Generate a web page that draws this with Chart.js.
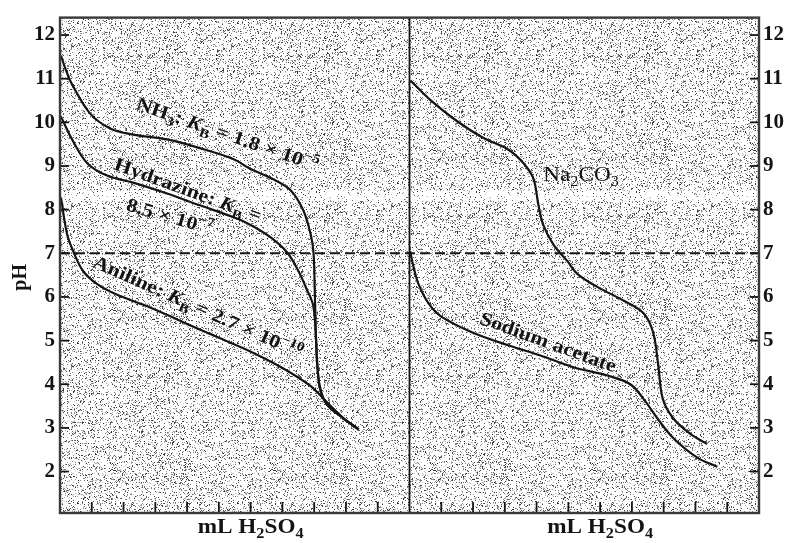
<!DOCTYPE html>
<html lang="en">
<head>
  <meta charset="UTF-8" />
  <title>Titration curves - pH vs mL H2SO4</title>
  <script src="https://cdn.jsdelivr.net/npm/chart.js"></script>
  <style>
    html, body { margin: 0; padding: 0; background: #fff; }
    #wrap { position: relative; width: 786px; height: 543px; }
  </style>
</head>
<body>
  <div id="wrap">
    <canvas id="titration" width="786" height="543"></canvas>
  </div>

  <script>
    // each panel spans 11 mL units on the x axis
    const PANEL_ML = 11;
    const PH_MIN = 1.05;
    const PH_MAX = 12.4;
    const NEUTRAL_PH = 7;
    const yTickValues = [2, 3, 4, 5, 6, 7, 8, 9, 10, 11, 12];
    const xTickValues = [1, 2, 3, 4, 5, 6, 7, 8, 9, 10];

    // left panel, [mL, pH]
    const nh3 = [[0.03, 11.53], [0.16, 11.25], [0.38, 10.87], [0.95, 10.2], [1.58, 9.86], [2.3, 9.72],
      [3.37, 9.61], [4.4, 9.41], [5.45, 9.16], [6.0, 8.93], [6.7, 8.7], [7.25, 8.45], [7.66, 7.98],
      [7.9, 7.4], [7.98, 7.0], [8.02, 6.1], [8.06, 5.0], [8.1, 4.43], [8.19, 3.89], [8.41, 3.53],
      [8.92, 3.22], [9.39, 2.97]];
    const hydrazine = [[0.03, 10.13], [0.38, 9.61], [0.85, 9.07], [1.48, 8.78], [2.3, 8.62], [3.37, 8.37],
      [4.4, 8.1], [5.45, 7.83], [6.0, 7.65], [6.6, 7.38], [7.15, 7.02], [7.5, 6.6], [7.75, 6.2],
      [7.97, 5.8], [8.06, 5.0], [8.1, 4.43], [8.19, 3.89], [8.41, 3.53], [8.92, 3.22], [9.39, 2.97]];
    const aniline = [[0.03, 8.28], [0.22, 7.45], [0.42, 7.04], [0.72, 6.6], [1.16, 6.3], [1.8, 6.05],
      [2.84, 5.76], [3.88, 5.42], [4.95, 5.08], [5.99, 4.75], [7.03, 4.36], [7.88, 3.96], [8.45, 3.55],
      [8.92, 3.22], [9.39, 2.97]];

    // right panel, [mL, pH]
    const sodiumCarbonate = [[0.03, 10.96], [0.66, 10.51], [1.51, 10.02], [2.33, 9.64], [3.08, 9.39],
      [3.58, 9.07], [3.9, 8.71], [4.06, 8.1], [4.21, 7.65], [4.53, 7.2], [4.97, 6.82], [5.28, 6.53],
      [5.91, 6.23], [6.73, 5.92], [7.36, 5.63], [7.67, 5.18], [7.83, 4.43], [7.97, 3.67], [8.3, 3.22],
      [8.84, 2.86], [9.37, 2.63]];
    const sodiumAcetate = [[0.02, 7.05], [0.13, 6.68], [0.28, 6.3], [0.6, 5.85], [1.0, 5.55], [2.0, 5.18],
      [3.08, 4.9], [4.12, 4.66], [5.16, 4.39], [6.23, 4.2], [6.95, 4.0], [7.36, 3.67], [7.8, 3.22],
      [8.3, 2.77], [9.06, 2.32], [9.69, 2.11]];

    const FONT = '"Liberation Serif", "DejaVu Serif", serif';
    const INK = '#141414';
    const STRETCH = 1.16; // scanned text is a bit wide

    // text parts: [text, kind]  kind = sub | sup | it
    const curveLabels = [
      { panel: 0, x: 2.36, y: 10.31, angle: 19, size: 19, bold: true,
        parts: [['NH'], ['3', 'sub'], [': '], ['K', 'it'], ['B', 'sub'], [' = 1.8 × 10'], ['−5', 'sup']] },
      { panel: 0, x: 1.67, y: 8.93, angle: 20, size: 19, bold: true,
        parts: [['Hydrazine: '], ['K', 'it'], ['B', 'sub'], [' =']] },
      { panel: 0, x: 2.05, y: 7.99, angle: 16, size: 19, bold: true,
        parts: [['8.5 × 10'], ['−7', 'sup']] },
      { panel: 0, x: 1.0, y: 6.7, angle: 24, size: 19, bold: true,
        parts: [['Aniline: '], ['K', 'it'], ['B', 'sub'], [' = 2.7 × 10'], ['−10', 'sup']] },
      { panel: 1, x: 4.21, y: 8.66, angle: 0, size: 20, bold: false,
        parts: [['Na'], ['2', 'sub'], ['CO'], ['3', 'sub']] },
      { panel: 1, x: 2.17, y: 5.4, angle: 20, size: 19, bold: true,
        parts: [['Sodium acetate']] }
    ];
    const axisTitleParts = [['mL H'], ['2', 'sub'], ['SO'], ['4', 'sub']];
    const axisTitleCenters = [6, 6]; // mL within each panel

    function drawRich(ctx, parts, size, bold, measureOnly) {
      let x = 0;
      parts.forEach(([t, kind]) => {
        const small = kind === 'sub' || kind === 'sup';
        const fs = small ? size * 0.7 : size;
        ctx.font = `${kind === 'it' ? 'italic ' : ''}${bold ? 'bold ' : ''}${fs}px ${FONT}`;
        const dy = kind === 'sub' ? size * 0.26 : kind === 'sup' ? -size * 0.4 : 0;
        if (!measureOnly) ctx.fillText(t, x, dy);
        x += ctx.measureText(t).width;
      });
      return x;
    }

    // speckled paper texture (fixed seed so it is the same every time)
    function stipple(density, seed) {
      const n = 160;
      const c = document.createElement('canvas');
      c.width = c.height = n;
      const g = c.getContext('2d');
      g.fillStyle = '#fff';
      g.fillRect(0, 0, n, n);
      let s = seed;
      const rnd = () => (s = (s * 16807) % 2147483647) / 2147483647;
      for (let i = 0; i < n * n * density; i++) {
        const v = 40 + Math.floor(rnd() * 170);
        g.fillStyle = `rgb(${v},${v},${v})`;
        g.fillRect(Math.floor(rnd() * n), Math.floor(rnd() * n), 1, 1);
      }
      return c;
    }

    const paperPlugin = {
      id: 'paper',
      beforeDatasetsDraw(chart) {
        const { ctx, chartArea: a, scales: { y } } = chart;
        ctx.save();
        ctx.fillStyle = ctx.createPattern(stipple(0.24, 12345), 'repeat');
        ctx.fillRect(a.left, a.top, a.width, a.height);
        // pale streak left by the scanner
        const b1 = y.getPixelForValue(8.44), b2 = y.getPixelForValue(8.2);
        ctx.fillStyle = ctx.createPattern(stipple(0.07, 777), 'repeat');
        ctx.fillRect(a.left, b1, a.width, b2 - b1);
        ctx.restore();
      },
      afterDatasetsDraw(chart) {
        const { ctx, chartArea: a, scales: { x, y } } = chart;
        const seg = (x1, y1, x2, y2) => { ctx.beginPath(); ctx.moveTo(x1, y1); ctx.lineTo(x2, y2); ctx.stroke(); };
        ctx.save();
        ctx.strokeStyle = INK;
        ctx.lineWidth = 1.8;
        // inward tick marks
        yTickValues.forEach(v => {
          const py = y.getPixelForValue(v);
          seg(a.left, py, a.left + 9, py);
          seg(a.right - 9, py, a.right, py);
        });
        [0, 1].forEach(p => xTickValues.forEach(v => {
          const px = x.getPixelForValue(v + p * PANEL_ML);
          seg(px, a.bottom, px, a.bottom - 11);
        }));
        // panel divider
        const mid = x.getPixelForValue(PANEL_ML);
        seg(mid, a.top, mid, a.bottom);
        // frame
        ctx.strokeStyle = '#3a3a3a';
        ctx.lineWidth = 2.4;
        ctx.strokeRect(a.left, a.top, a.width, a.height);

        ctx.fillStyle = INK;
        ctx.textBaseline = 'alphabetic';
        ctx.textAlign = 'left';
        // x titles
        axisTitleCenters.forEach((c, p) => {
          const w = drawRich(ctx, axisTitleParts, 20, true, true) * STRETCH;
          ctx.save();
          ctx.translate(x.getPixelForValue(c + p * PANEL_ML) - w / 2, a.bottom + 20);
          ctx.scale(STRETCH, 1);
          drawRich(ctx, axisTitleParts, 20, true);
          ctx.restore();
        });
        // y title
        ctx.save();
        ctx.translate(21, y.getPixelForValue(6.45));
        ctx.rotate(-Math.PI / 2);
        ctx.font = `bold 20px ${FONT}`;
        ctx.textAlign = 'center';
        ctx.textBaseline = 'middle';
        ctx.fillText('pH', 0, 0);
        ctx.restore();
        // curve labels
        curveLabels.forEach(l => {
          ctx.save();
          ctx.translate(x.getPixelForValue(l.x + l.panel * PANEL_ML), y.getPixelForValue(l.y));
          ctx.rotate(l.angle * Math.PI / 180);
          ctx.scale(STRETCH, 1);
          drawRich(ctx, l.parts, l.size, l.bold);
          ctx.restore();
        });
        ctx.restore();
      }
    };

    const toPoints = (pts, panel) => pts.map(([ml, ph]) => ({ x: ml + panel * PANEL_ML, y: ph }));
    const curve = (label, pts, panel) => ({
      label,
      data: toPoints(pts, panel),
      borderColor: INK,
      borderWidth: 2.2,
      pointRadius: 0,
      tension: 0.35,
      fill: false
    });

    const yAxis = (position, padding, width) => ({
      position,
      min: PH_MIN,
      max: PH_MAX,
      grid: { display: false, drawTicks: false },
      border: { display: false },
      ticks: { color: INK, padding, font: { family: FONT, size: 21, weight: 'bold' } },
      afterBuildTicks: s => { s.ticks = yTickValues.map(v => ({ value: v })); },
      afterFit: s => { s.width = width; }
    });

    const ctx = document.getElementById('titration').getContext('2d');
    new Chart(ctx, {
      type: 'line',
      data: {
        datasets: [
          curve('NH3', nh3, 0),
          curve('Hydrazine', hydrazine, 0),
          curve('Aniline', aniline, 0),
          curve('Na2CO3', sodiumCarbonate, 1),
          curve('Sodium acetate', sodiumAcetate, 1),
          {
            label: 'pH 7',
            data: [{ x: 0, y: NEUTRAL_PH }, { x: 2 * PANEL_ML, y: NEUTRAL_PH }],
            borderColor: '#181818',
            borderWidth: 1.9,
            borderDash: [10, 5],
            pointRadius: 0
          }
        ]
      },
      options: {
        responsive: false,
        animation: false,
        layout: { padding: { top: 9, bottom: 30, left: 0, right: 0 } },
        plugins: { legend: { display: false }, tooltip: { enabled: false } },
        scales: {
          x: { type: 'linear', min: 0, max: 2 * PANEL_ML, display: false },
          y: yAxis('left', 5, 60),
          y2: yAxis('right', 4, 27)
        }
      },
      plugins: [paperPlugin]
    });
  </script>
</body>
</html>
